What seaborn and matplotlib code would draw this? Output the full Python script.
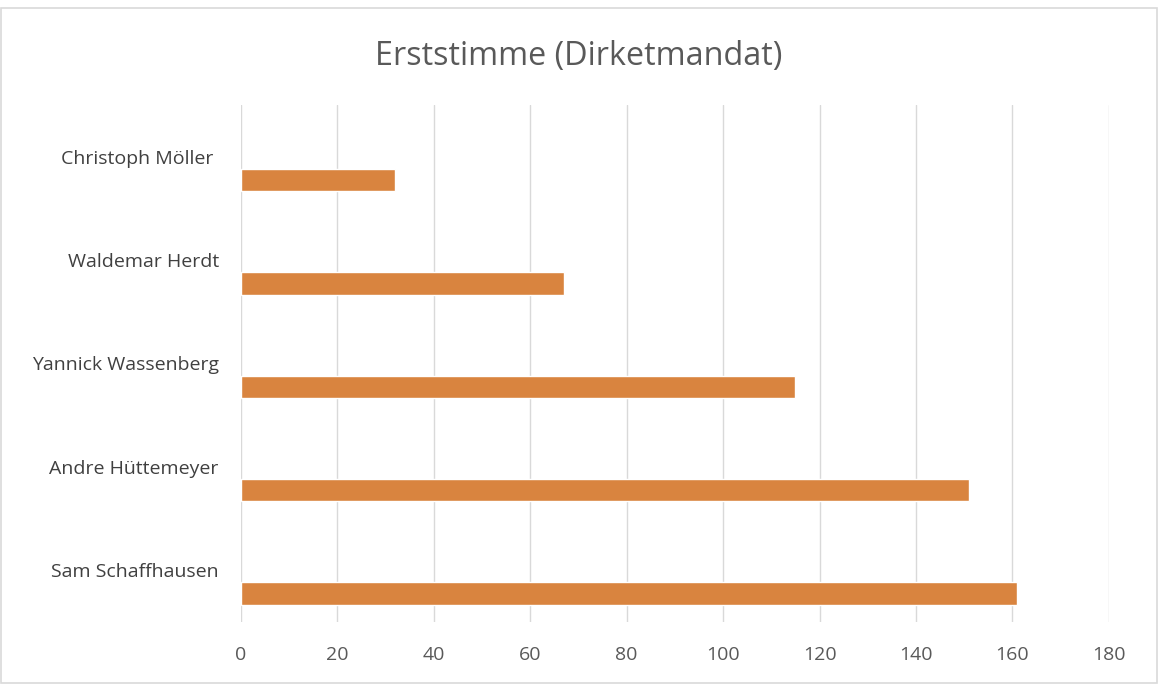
import numpy as np
import pandas as pd
import matplotlib
matplotlib.use("Agg")
import matplotlib.pyplot as plt
from matplotlib.patches import Rectangle
import seaborn as sns

kandidaten = ["Christoph Möller ", "Waldemar Herdt", "Yannick Wassenberg",
              "Andre Hüttemeyer", "Sam Schaffhausen"]
stimmen = [32, 67, 115, 151, 161]
x_ticks = [0, 20, 40, 60, 80, 100, 120, 140, 160, 180]

# Excel-style clustered bar: a second, empty series pushes the bar below the label
df = pd.DataFrame({
    "Kandidat": kandidaten * 2,
    "Stimmen": [np.nan] * len(kandidaten) + stimmen,
    "Reihe": ["leer"] * len(kandidaten) + ["Erststimme"] * len(kandidaten),
})

sns.set_style("white")
plt.rcParams["font.family"] = ["Open Sans", "DejaVu Sans"]

fig = plt.figure(figsize=(11.6, 6.87), dpi=100)
ax = fig.add_axes([0.2078, 0.0946, 0.748, 0.7526])

sns.barplot(data=df, x="Stimmen", y="Kandidat", hue="Reihe",
            hue_order=["leer", "Erststimme"],
            palette={"leer": "#FFFFFF", "Erststimme": "#D9843F"},
            saturation=1, width=0.9, gap=0.52, orient="h", legend=False, ax=ax,
            err_kws={"linewidth": 0})

ax.set_xlim(0, 180)
ax.set_xticks(x_ticks)
ax.xaxis.grid(True, color="#D9D9D9", linewidth=1)
ax.set_axisbelow(True)
for s in ax.spines.values():
    s.set_visible(False)
ax.set_xlabel("")
ax.set_ylabel("")
ax.tick_params(axis="x", colors="#595959", labelsize=14, length=0, pad=17)
ax.tick_params(axis="y", colors="#404040", labelsize=14, length=0, pad=16)

fig.text(0.499, 0.918, "Erststimme (Dirketmandat)", ha="center", va="center",
         fontsize=23.3, color="#595959")

fig.patches.append(Rectangle((0.001, 0.006), 0.996, 0.982, transform=fig.transFigure,
                             fill=False, edgecolor="#D9D9D9", linewidth=1.2))

fig.savefig("out.png", dpi=100, facecolor="white")
